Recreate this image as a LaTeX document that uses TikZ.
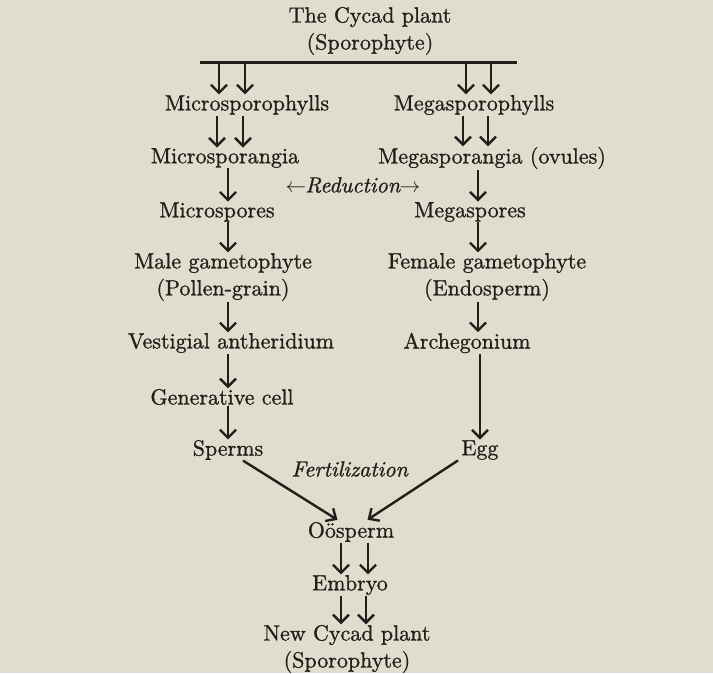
\documentclass[tikz,border=0pt]{standalone}
\usepackage{fontspec}
\setmainfont{lmroman10-regular.otf}[ItalicFont=lmroman10-italic.otf, FakeBold=1.0]
\usetikzlibrary{arrows.meta}
\definecolor{paper}{RGB}{224,221,206}
\definecolor{ink}{RGB}{34,30,26}
\tikzset{
  lbl/.style={text=ink, inner sep=0.5pt, align=center, font=\fontsize{22}{27}\selectfont},
  arr/.style={draw=ink, line width=2.4pt, -{Straight Barb[length=8pt,width=16pt,line width=2.4pt]}},
  barline/.style={draw=ink, line width=3pt},
  fline/.style={draw=ink, line width=2.4pt, shorten >=3pt, -{Straight Barb[length=8pt,width=15pt,line width=2.4pt]}}
}
\begin{document}
\begin{tikzpicture}[x=1pt,y=-1pt]
\fill[paper] (0,0) rectangle (713,673);
\useasboundingbox (0,0) rectangle (713,673);
% nodes
\node[lbl] (top) at (370,31) {The Cycad plant\\(Sporophyte)};
\coordinate (barL) at (200,62);
\coordinate (barR) at (517,62);
\node[lbl] (msph) at (247,105) {Microsporophylls};
\node[lbl] (Msph) at (474,105) {Megasporophylls};
\node[lbl] (msa) at (225,158) {Microsporangia};
\node[lbl] (Msa) at (492,158) {Megasporangia (ovules)};
\node[lbl] (red) at (353,185) {$\leftarrow$\kern-1pt\textit{Reduction}\kern-1pt$\rightarrow$};
\node[lbl] (msp) at (217,212) {Microspores};
\node[lbl] (Msp) at (470,212) {Megaspores};
\node[lbl] (mg) at (223,277) {Male gametophyte\\(Pollen-grain)};
\node[lbl] (fg) at (487,277) {Female gametophyte\\(Endosperm)};
\node[lbl] (va) at (231,343) {Vestigial antheridium};
\node[lbl] (arch) at (467,343) {Archegonium};
\node[lbl] (gc) at (222,397) {Generative cell};
\node[lbl] (sp) at (228,450) {Sperms};
\node[lbl] (egg) at (480,450) {Egg};
\node[lbl] (fert) at (350,469) {\textit{Fertilization}};
\node[lbl] (oo) at (351,532) {Oösperm};
\node[lbl] (emb) at (350,585) {Embryo};
\node[lbl] (new) at (347,649) {New Cycad plant\\(Sporophyte)};
% bar
\draw[barline] (barL) -- (barR);
% bar -> sporophylls
\draw[arr] (219,0 |- barL) -- (219,0 |- msph.north);
\draw[arr] (245,0 |- barL) -- (245,0 |- msph.north);
\draw[arr] (466,0 |- barR) -- (466,0 |- Msph.north);
\draw[arr] (491,0 |- barR) -- (491,0 |- Msph.north);
% sporophylls -> sporangia
\draw[arr] (217,0 |- msph.south) -- (217,0 |- msa.north);
\draw[arr] (243,0 |- msph.south) -- (243,0 |- msa.north);
\draw[arr] (463,0 |- Msph.south) -- (463,0 |- Msa.north);
\draw[arr] (488,0 |- Msph.south) -- (488,0 |- Msa.north);
% left chain
\draw[arr] (228,0 |- msa.south) -- (228,0 |- msp.north);
\draw[arr] (228,0 |- msp.south) -- (228,0 |- mg.north);
\draw[arr] (228,0 |- mg.south) -- (228,0 |- va.north);
\draw[arr] (228,0 |- va.south) -- (228,0 |- gc.north);
\draw[arr] (228,0 |- gc.south) -- (228,0 |- sp.north);
% right chain
\draw[arr] (478,0 |- Msa.south) -- (478,0 |- Msp.north);
\draw[arr] (478,0 |- Msp.south) -- (478,0 |- fg.north);
\draw[arr] (478,0 |- fg.south) -- (478,0 |- arch.north);
\draw[arr] (480,0 |- arch.south) -- (480,0 |- egg.north);
% fertilization
\draw[fline] (243,0 |- sp.south) -- (340,0 |- oo.north);
\draw[fline] (458,0 |- egg.south) -- (365,0 |- oo.north);
% oosperm -> embryo -> new plant
\draw[arr] (341,0 |- oo.south) -- (341,0 |- emb.north);
\draw[arr] (368,0 |- oo.south) -- (368,0 |- emb.north);
\draw[arr] (341,0 |- emb.south) -- (341,0 |- new.north);
\draw[arr] (366,0 |- emb.south) -- (366,0 |- new.north);
\end{tikzpicture}
\end{document}
